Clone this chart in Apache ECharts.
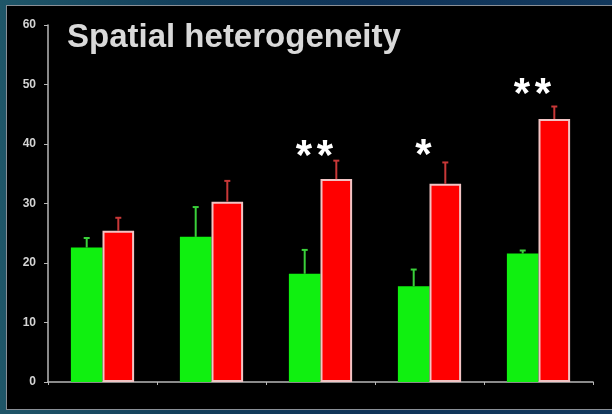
<!DOCTYPE html>
<html>
<head>
<meta charset="utf-8">
<script src="https://cdn.jsdelivr.net/npm/echarts@6/dist/echarts.min.js"></script>
<style>
  html, body { margin: 0; padding: 0; }
  body {
    width: 612px; height: 414px; overflow: hidden; position: relative;
    background: linear-gradient(90deg, #1f5668 0%, #123e5a 30%, #0f3358 60%, #12385c 100%);
  }
  #panel {
    position: absolute; left: 6px; top: 5px; width: 610px; height: 405px;
    background: #000; border: 1px solid #8a8f96; box-sizing: border-box;
  }
  #chart { position: absolute; left: 0; top: 0; width: 612px; height: 414px; }
</style>
</head>
<body>
<div id="panel"></div>
<div id="chart"></div>
<script>
// ---- data ----
var categories = ['1', '2', '3', '4', '5'];
var greenValues = [22.6, 24.4, 18.2, 16.1, 21.6];
var greenErrors = [1.6, 5.0, 4.0, 2.8, 0.5];
var redValues = [25.4, 30.3, 34.1, 33.3, 44.2];
var redErrors = [2.2, 3.5, 3.1, 3.6, 2.1];
var sigMarks = ['', '', '**', '*', '**'];
var sigLevels = [0, 0, 39.2, 39.5, 49.6];
var yTicks = [0, 10, 20, 30, 40, 50, 60];

var BAR_FRAC = 0.29;

function errData(vals, errs) {
  return vals.map(function (v, i) { return [i, v, errs[i]]; });
}

function makeErrRender(side, color) {
  return function (params, api) {
    var idx = api.value(0);
    var v = api.value(1);
    var e = api.value(2);
    var band = api.size([1, 0])[0];
    var off = side * band * BAR_FRAC / 2;
    var base = api.coord([idx, v]);
    var top = api.coord([idx, v + e]);
    var x = base[0] + off;
    var style = { stroke: color, lineWidth: 2 };
    return {
      type: 'group',
      children: [
        { type: 'line', shape: { x1: x, y1: base[1], x2: x, y2: top[1] }, style: style },
        { type: 'line', shape: { x1: x - 3, y1: top[1], x2: x + 3, y2: top[1] }, style: style }
      ]
    };
  };
}

var sigData = sigMarks.map(function (m, i) { return [i, sigLevels[i], m]; });

var chart = echarts.init(document.getElementById('chart'), null, { renderer: 'canvas' });
chart.setOption({
  backgroundColor: 'transparent',
  animation: false,
  title: {
    text: 'Spatial heterogeneity',
    left: 67, top: 21, padding: 0,
    textStyle: { color: '#d9d9d9', fontSize: 33, fontWeight: 'bold', fontFamily: 'Liberation Sans, Arial, sans-serif' }
  },
  grid: { left: 48, right: 19, top: 25, bottom: 32 },
  xAxis: {
    type: 'category',
    data: categories,
    axisLine: { lineStyle: { color: '#b8b8b8', width: 1.5 } },
    axisTick: { show: true, length: 3, lineStyle: { color: '#b8b8b8' } },
    axisLabel: { show: false },
    splitLine: { show: false }
  },
  yAxis: {
    type: 'value',
    min: yTicks[0], max: yTicks[yTicks.length - 1], interval: 10,
    axisLine: { show: true, lineStyle: { color: '#b8b8b8', width: 1.5 } },
    axisTick: { show: true, length: 4, lineStyle: { color: '#b8b8b8' } },
    axisLabel: { color: '#d4d4d4', fontSize: 12, fontWeight: 'bold', margin: 12, fontFamily: 'Liberation Sans, Arial, sans-serif' },
    splitLine: { show: false }
  },
  series: [
    {
      type: 'bar', name: 'green', data: greenValues,
      barWidth: (BAR_FRAC * 100) + '%', barGap: '0%',
      itemStyle: { color: '#10f010' }
    },
    {
      type: 'bar', name: 'red', data: redValues,
      barWidth: (BAR_FRAC * 100) + '%', barGap: '0%',
      itemStyle: { color: '#ff0000', borderColor: '#f2c4c4', borderWidth: 2 }
    },
    {
      type: 'custom', name: 'greenErr', data: errData(greenValues, greenErrors),
      renderItem: makeErrRender(-1, '#3ad03a'), z: 5
    },
    {
      type: 'custom', name: 'redErr', data: errData(redValues, redErrors),
      renderItem: makeErrRender(1, '#c83838'), z: 5
    },
    {
      type: 'custom', name: 'sig', data: sigData,
      z: 6,
      renderItem: function (params, api) {
        var idx = api.value(0);
        var mark = sigMarks[idx];
        if (!mark) return null;
        var p = api.coord([idx, api.value(1)]);
        var n = mark.length;
        var step = 21;
        var children = [];
        for (var k = 0; k < n; k++) {
          var cx = p[0] - 6 + (k - (n - 1) / 2) * step;
          children.push({
            type: 'text',
            style: {
              text: '*', x: cx, y: p[1] + 9,
              fill: '#ffffff', fontSize: 42, fontWeight: 'bold',
              fontFamily: 'Liberation Sans, Arial, sans-serif',
              align: 'center', verticalAlign: 'middle'
            }
          });
        }
        return { type: 'group', children: children };
      }
    }
  ]
});
</script>
</body>
</html>
